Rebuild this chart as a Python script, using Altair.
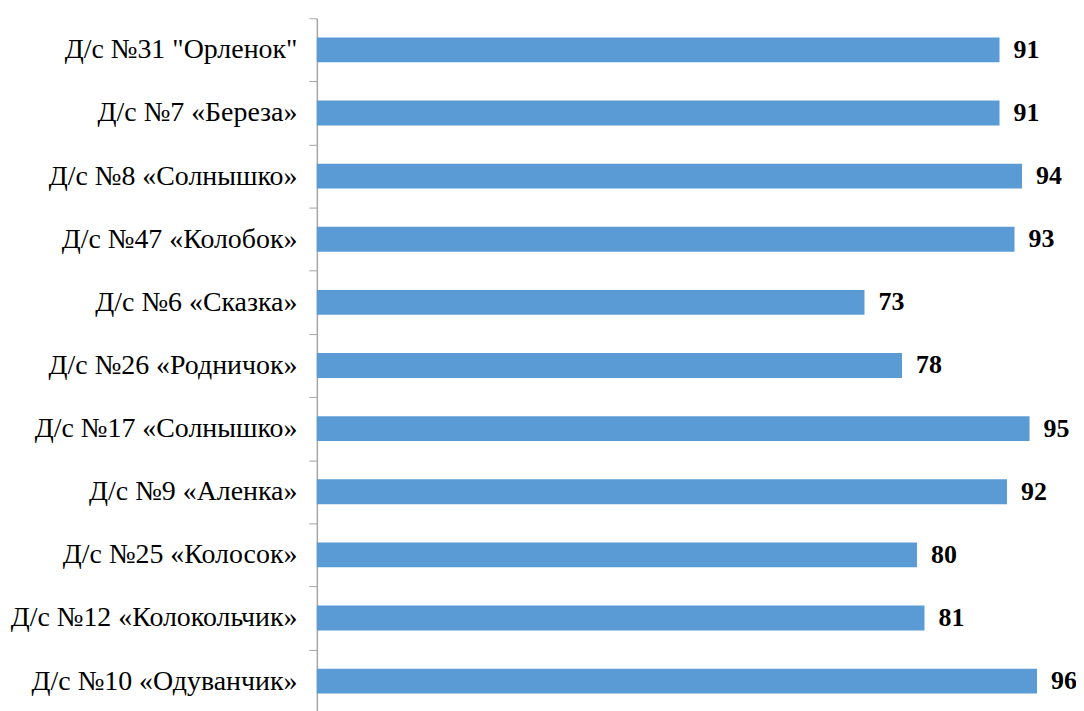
import altair as alt
import pandas as pd

categories = [
    'Д/с №31 "Орленок"',
    "Д/с №7 «Береза»",
    "Д/с №8 «Солнышко»",
    "Д/с №47 «Колобок»",
    "Д/с №6 «Сказка»",
    "Д/с №26 «Родничок»",
    "Д/с №17 «Солнышко»",
    "Д/с №9 «Аленка»",
    "Д/с №25 «Колосок»",
    "Д/с №12 «Колокольчик»",
    "Д/с №10 «Одуванчик»",
]
values = [91, 91, 94, 93, 73, 78, 95, 92, 80, 81, 96]

df = pd.DataFrame({"cat": categories, "val": values})

FONT = "Liberation Serif"

y = alt.Y(
    "cat:N",
    sort=categories,
    title=None,
    scale=alt.Scale(paddingInner=0, paddingOuter=0),
    axis=alt.Axis(
        labelFont=FONT,
        labelFontSize=28,
        labelColor="#000000",
        labelPadding=12,
        tickSize=8,
        tickColor="#A6A6A6",
        domainColor="#A6A6A6",
        domainWidth=1.5,
        tickBand="extent",
        grid=False,
        labelLimit=400,
    ),
)
x = alt.X(
    "val:Q",
    scale=alt.Scale(domain=[0, 100]),
    axis=None,
)

bars = alt.Chart(df).mark_bar(color="#5B9BD5", size=25).encode(x=x, y=y)
labels = alt.Chart(df).mark_text(
    align="left", baseline="middle", dx=14, font=FONT, fontSize=26,
    fontWeight="bold", color="#000000"
).encode(x=x, y=alt.Y("cat:N", sort=categories), text="val:Q")

chart = (
    alt.layer(bars, labels)
    .properties(
        width=753,
        height=697,
        autosize=alt.AutoSizeParams(type="none"),
        padding={"left": 310, "top": 9, "right": 9, "bottom": 0},
    )
    .configure_view(stroke=None)
)

chart.save("out.html", embed_options={"renderer": "svg", "actions": False})
